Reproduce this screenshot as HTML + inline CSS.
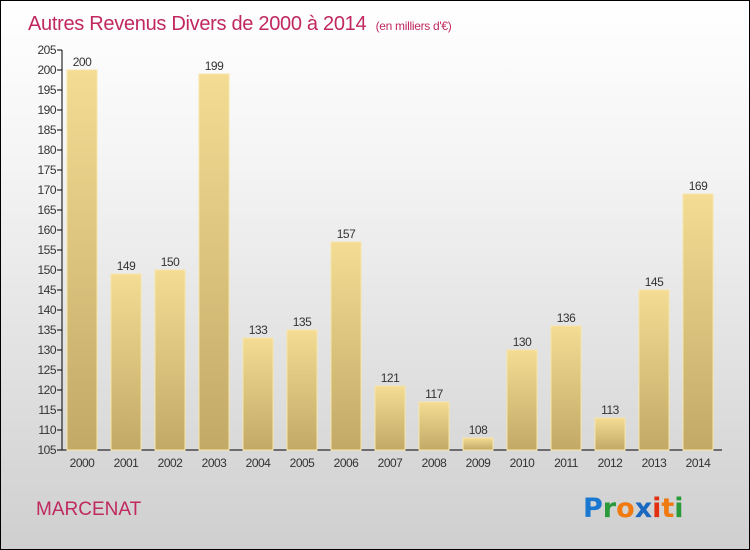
<!DOCTYPE html>
<html><head><meta charset="utf-8"><style>
body{margin:0;}
#wrap{width:748px;height:548px;border:1px solid #000;background:linear-gradient(#ffffff,#f4f4f4 30%,#cfcfcf);position:relative;overflow:hidden;font-family:"Liberation Sans",sans-serif;}
</style></head><body>
<div id="wrap">
<svg id="c" width="748" height="548">
<defs>
<linearGradient id="bg" x1="0" y1="0" x2="0" y2="1"><stop offset="0" stop-color="#f4dc94"/><stop offset="1" stop-color="#c2a966"/></linearGradient>
</defs>
<text x="27" y="29" font-size="20" fill="#c0285f" letter-spacing="-0.3">Autres Revenus Divers de 2000 à 2014 <tspan font-size="12" dx="4">(en milliers d'€)</tspan></text>
<text x="35" y="514" font-size="19" fill="#c0285f">MARCENAT</text>
<g font-size="27" font-weight="bold" font-family="'DejaVu Sans',sans-serif">
<text x="582" y="516"><tspan fill="#1a78d0">P</tspan><tspan fill="#2a9a3a">r</tspan><tspan fill="#f07a10">o</tspan><tspan fill="#1a68c0">x</tspan><tspan fill="#e03010">i</tspan><tspan fill="#f07a10">t</tspan><tspan fill="#2a9a3a">i</tspan></text>
</g>
<g id="g"></g>
</svg>
</div>
<script>
const years=["2000","2001","2002","2003","2004","2005","2006","2007","2008","2009","2010","2011","2012","2013","2014"];
const values=[200,149,150,199,133,135,157,121,117,108,130,136,113,145,169];
const yTicks=[105,110,115,120,125,130,135,140,145,150,155,160,165,170,175,180,185,190,195,200,205];
const ns="http://www.w3.org/2000/svg";
const g=document.getElementById('g');
const y0=105,y1=205,py0=449,py1=49;
function ys(v){return py0-(v-y0)*(py0-py1)/(y1-y0);}
function xs(i){return 81+i*44;}
function mk(t,a,txt){const e=document.createElementNS(ns,t);for(const k in a)e.setAttribute(k,a[k]);if(txt!=null)e.textContent=txt;g.appendChild(e);return e;}
const ax=mk('line',{x1:61,y1:py1,x2:61,y2:py0,stroke:'#000'});


const bx=mk('line',{x1:61,y1:py0,x2:721,y2:py0,stroke:'#000'});


yTicks.forEach(v=>{
 const t=mk('line',{x1:56,x2:61,y1:ys(v),y2:ys(v),stroke:'#000'});
 
 
 const l=mk('text',{x:55,y:ys(v)+4,'font-size':12,'text-anchor':'end',fill:'#333','letter-spacing':'-0.5'},v);
 
 
});
values.forEach((v,i)=>{
 const r=mk('rect',{x:xs(i)-15,y:ys(v),width:30,height:py0-ys(v),fill:'url(#bg)',stroke:'#f6e6a8','stroke-width':1});
 
 
 const vl=mk('text',{x:xs(i),y:ys(v)-4,'font-size':12,'text-anchor':'middle',fill:'#333','letter-spacing':'-0.5'},v);
 
 
 const xl=mk('text',{x:xs(i),y:466,'font-size':12,'text-anchor':'middle',fill:'#333','letter-spacing':'-0.5'},years[i]);
 
 
});
</script>
</body></html>
